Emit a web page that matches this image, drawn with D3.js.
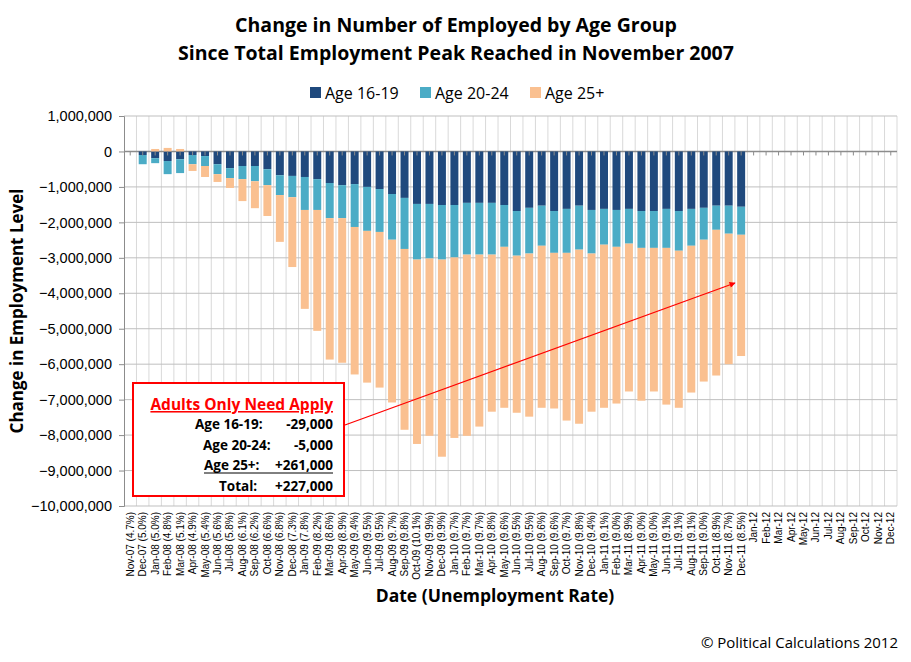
<!DOCTYPE html>
<html><head><meta charset="utf-8">
<script src="https://cdn.jsdelivr.net/npm/d3@7"></script>
<style>
body{margin:0;background:#fff;font-family:"Open Sans","DejaVu Sans",sans-serif;}
</style></head>
<body><svg width="911" height="662"></svg>
<script>
const rates = [4.7,5.0,5.0,4.8,5.1,4.9,5.4,5.6,5.8,6.1,6.2,6.6,6.8,7.3,7.8,8.2,8.6,8.9,9.4,9.5,9.5,9.7,9.8,10.1,9.9,9.9,9.7,9.7,9.7,9.8,9.6,9.5,9.5,9.6,9.6,9.7,9.8,9.4,9.1,9.0,8.9,9.0,9.0,9.1,9.1,9.1,9.0,8.9,8.7,8.5];
const months = ["Jan","Feb","Mar","Apr","May","Jun","Jul","Aug","Sep","Oct","Nov","Dec"];
// change in thousands, vs Nov 2007
const age1619 = [0,-100,-190,-270,-220,-100,-130,-360,-470,-410,-410,-500,-670,-690,-720,-780,-890,-950,-920,-1000,-1060,-1200,-1310,-1480,-1480,-1510,-1510,-1450,-1450,-1450,-1510,-1680,-1590,-1530,-1680,-1620,-1530,-1650,-1620,-1650,-1620,-1680,-1680,-1620,-1680,-1620,-1590,-1530,-1530,-1560];
const age2024 = [0,-260,-140,-370,-390,-260,-280,-280,-280,-370,-430,-450,-560,-600,-930,-870,-990,-930,-1210,-1240,-1210,-1290,-1440,-1570,-1540,-1540,-1480,-1460,-1460,-1460,-1180,-1260,-1290,-1130,-1180,-1240,-1240,-1230,-1010,-1040,-980,-1040,-1040,-1100,-1120,-1040,-900,-680,-790,-790];
const age25 = [0,0,70,100,70,-190,-310,-220,-280,-620,-760,-870,-1320,-1970,-2790,-3410,-3990,-4080,-4160,-4280,-4390,-4590,-5100,-5200,-5000,-5560,-5090,-5110,-4850,-4430,-4540,-4430,-4600,-4570,-4390,-4730,-4910,-4460,-4600,-4420,-4170,-4310,-4050,-4420,-4430,-4140,-4000,-4110,-3680,-3420];
const seriesNames = ["Age 16-19","Age 20-24","Age 25+"];
const colors = ["#1f497d","#4bacc6","#fac090"];

const labels = [];
for (let i = 0; i < 62; i++) {
  const m = (10 + i) % 12, yr = 7 + Math.floor((10 + i) / 12);
  let s = months[m] + "-" + String(yr).padStart(2, "0");
  if (i < rates.length) s += " (" + rates[i].toFixed(1) + "%)";
  labels.push(s);
}
const rows = age1619.map((d, i) => ({key: labels[i], a: d * 1000, b: age2024[i] * 1000, c: age25[i] * 1000}));

const svg = d3.select("svg");
const pLeft = 124, pRight = 897, pTop = 116, pBottom = 506;

const x = d3.scaleBand().domain(labels).range([pLeft, pRight]).paddingInner(0.36).paddingOuter(0.18);
const y = d3.scaleLinear().domain([-10000000, 1000000]).range([pBottom, pTop]);

// vertical gridlines between categories
const step = (pRight - pLeft) / labels.length;
svg.append("g").selectAll("line").data(d3.range(1, labels.length + 1)).join("line")
  .attr("x1", i => pLeft + i * step).attr("x2", i => pLeft + i * step)
  .attr("y1", pTop).attr("y2", pBottom).attr("stroke", "#d9d9d9");

// horizontal gridlines
svg.append("g").selectAll("line").data(y.ticks(11)).join("line")
  .attr("x1", pLeft).attr("x2", pRight).attr("y1", d => y(d)).attr("y2", d => y(d))
  .attr("stroke", d => d === 0 ? "#8c8c8c" : "#bfbfbf").attr("stroke-width", d => d === 0 ? 1.5 : 1);

const stack = d3.stack().keys(["a","b","c"]).offset(d3.stackOffsetDiverging);
const layers = stack(rows);
svg.append("g").selectAll("g").data(layers).join("g").attr("fill", (d, i) => colors[i])
  .selectAll("rect").data(d => d).join("rect")
  .attr("x", d => x(d.data.key)).attr("width", x.bandwidth())
  .attr("y", d => y(Math.max(d[0], d[1]))).attr("height", d => Math.abs(y(d[0]) - y(d[1])));

// axes
const ya = svg.append("g").attr("transform", `translate(${pLeft},0)`)
  .call(d3.axisLeft(y).ticks(11).tickFormat(d3.format(",")).tickSize(5));
ya.select(".domain").attr("stroke", "#8c8c8c");
ya.selectAll(".tick line").attr("stroke", "#8c8c8c");
ya.selectAll("text").attr("font-size", 14.5).attr("fill", "#000").attr("font-family", "Liberation Sans, Arial").attr("dx", -4);

const xa = svg.append("g").attr("transform", `translate(0,${y(0)})`)
  .call(d3.axisBottom(x).tickSize(4).tickSizeOuter(0));
xa.select(".domain").remove();
xa.selectAll(".tick line").attr("stroke", "#8c8c8c");
xa.selectAll(".tick text").remove();
svg.append("g").selectAll("text").data(labels).join("text")
  .attr("transform", d => `translate(${x(d) + x.bandwidth() / 2 + 3.5},${pBottom + 6}) rotate(-90)`)
  .attr("text-anchor", "end").attr("font-size", 10).attr("font-family", "Liberation Sans, Arial").text(d => d);

// titles
const tt = svg.append("text").attr("x", 456).attr("text-anchor", "middle").attr("font-weight", "bold").attr("font-size", 19.5);
tt.append("tspan").attr("x", 456).attr("y", 32).text("Change in Number of Employed by Age Group");
tt.append("tspan").attr("x", 456).attr("y", 60).text("Since Total Employment Peak Reached in November 2007");
svg.append("text").attr("x", 495).attr("y", 602).attr("text-anchor", "middle").attr("font-weight", "bold").attr("font-size", 17.5).text("Date (Unemployment Rate)");
svg.append("text").attr("transform", "translate(23,311) rotate(-90)").attr("text-anchor", "middle").attr("font-weight", "bold").attr("font-size", 17).text("Change in Employment Level");
svg.append("text").attr("x", 898).attr("y", 648).attr("text-anchor", "end").attr("font-size", 15).text("© Political Calculations 2012");

// legend
const lx = [310, 420, 530];
seriesNames.forEach((n, i) => {
  svg.append("rect").attr("x", lx[i]).attr("y", 87).attr("width", 11).attr("height", 11).attr("fill", colors[i]);
  svg.append("text").attr("x", lx[i] + 15).attr("y", 99).attr("font-size", 16).text(n);
});

// annotation
svg.append("defs").append("marker").attr("id", "ah").attr("viewBox", "0 0 10 10").attr("refX", 9).attr("refY", 5)
  .attr("markerWidth", 6).attr("markerHeight", 5).attr("orient", "auto")
  .append("path").attr("d", "M0,0L10,5L0,10z").attr("fill", "#ff0000");
svg.append("line").attr("x1", 345).attr("y1", 425).attr("x2", 735).attr("y2", 283)
  .attr("stroke", "#ff0000").attr("stroke-width", 1.2).attr("marker-end", "url(#ah)");
svg.append("rect").attr("x", 133).attr("y", 383).attr("width", 211).attr("height", 113)
  .attr("fill", "#fff").attr("stroke", "#ff0000").attr("stroke-width", 2);
svg.append("text").attr("x", 333).attr("y", 410).attr("text-anchor", "end").attr("fill", "#ff0000")
  .attr("font-weight", "bold").attr("font-size", 15.5).attr("text-decoration", "underline").text("Adults Only Need Apply");
const ann = [["Age 16-19:", "-29,000", 195, false], ["Age 20-24:", "-5,000", 203, false], ["Age 25+:", "+261,000", 204, true], ["Total:", "+227,000", 219, false]];
ann.forEach((r, i) => {
  const yy = 429 + i * 20.5;
  svg.append("text").attr("x", r[2]).attr("y", yy).attr("font-weight", "bold").attr("font-size", 13.5).text(r[0]);
  svg.append("text").attr("x", 333).attr("y", yy).attr("text-anchor", "end").attr("font-weight", "bold").attr("font-size", 13.5).text(r[1]);
  if (r[3]) svg.append("line").attr("x1", r[2]).attr("x2", 333).attr("y1", yy + 3).attr("y2", yy + 3).attr("stroke", "#000");
});
</script></body></html>
